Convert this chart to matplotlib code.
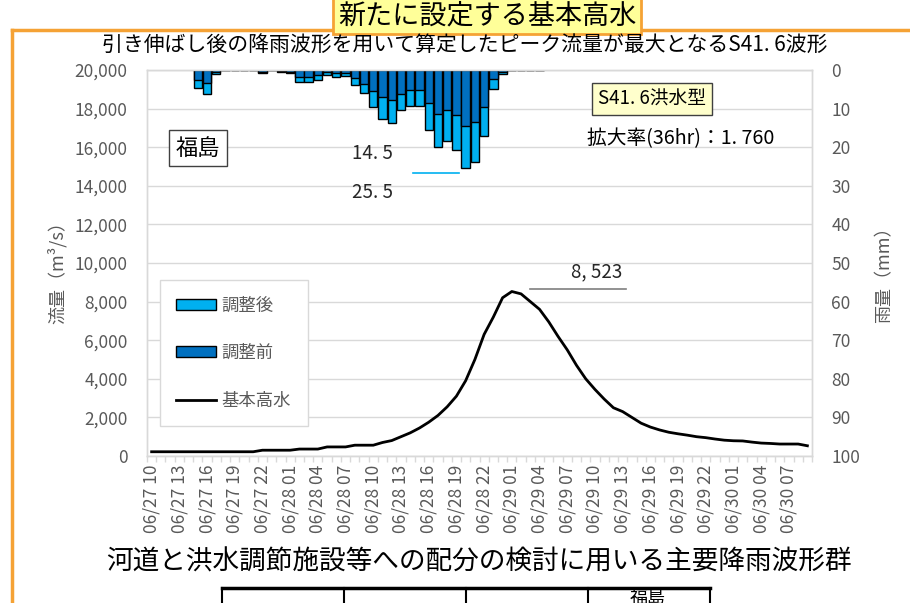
"""S41.6 flood hydrograph with stretched rainfall (Fukushima)."""
import numpy as np
import pandas as pd
import matplotlib
matplotlib.use('Agg')
import matplotlib.pyplot as plt
from matplotlib.patches import Patch
from matplotlib.lines import Line2D
from matplotlib.ticker import FuncFormatter

plt.rcParams['font.family'] = ['Noto Sans CJK JP', 'DejaVu Sans']

# hourly discharge of the basic high water (m3/s), 06/27 10:00 - 06/30 09:00
hours = pd.date_range('1966-06-27 10:00', periods=72, freq='h')
flow = [220, 220, 220, 220, 220, 220, 220, 220, 220, 220, 220, 220,
        300, 300, 300, 300, 360, 360, 360, 470, 470, 470, 560, 560,
        560, 700, 800, 1000, 1200, 1450, 1750, 2100, 2550, 3100, 3900, 5000,
        6300, 7200, 8200, 8523, 8400, 8000, 7600, 6950, 6200, 5500, 4700, 4000,
        3450, 2950, 2500, 2300, 2000, 1700, 1500, 1350, 1230, 1150, 1080, 1000,
        950, 880, 820, 790, 780, 720, 670, 650, 620, 620, 620, 530]

# hourly rainfall (mm), starting at 06/27 15:00
rain_start = 5
rain_before = [2.5, 3.4, 0.4, 0, 0, 0, 0, 0.4, 0, 0.3, 0.5, 1.8, 1.8, 1.4,
               0.6, 0.9, 0.9, 2.1, 3.5, 5.4, 7.0, 7.7, 6.1, 5.1, 5.1, 8.5,
               11.3, 10.4, 11.6, 14.5, 13.6, 9.6, 2.4, 0.5, 0, 0, 0, 0]
rain_after = [4.6, 6.2, 1.0, 0, 0, 0, 0, 0.7, 0, 0.5, 0.9, 3.1, 3.1, 2.6,
              1.2, 1.7, 1.6, 4.0, 6.0, 9.6, 12.8, 13.8, 10.4, 9.3, 9.3, 15.6,
              19.9, 18.4, 20.8, 25.5, 23.8, 17.1, 4.8, 1.1, 0, 0, 0, 0]
stretch_ratio = 1.760

labels = [h.strftime('%m/%d %H') for h in hours]
x = np.arange(len(flow))
xr = np.arange(rain_start, rain_start + len(rain_before))

GRAY = '#595959'
GRID = '#D9D9D9'
LIGHT = '#00B0F0'
DARK = '#0070C0'
ORANGE = '#F5A235'

fig = plt.figure(figsize=(9.1, 6.03), dpi=100)
W, H = 910, 603


def fx(px):
    return px / W


def fy(py):
    return 1 - py / H


def gothic(s):
    """Mimic the wide half-width punctuation of the original font."""
    return s.replace('.', '. ').replace(',', ', ')


ax = fig.add_axes([fx(147), fy(456), fx(812 - 147), (456 - 70) / H])
ax2 = ax.twinx()

ax.plot(x, flow, color='black', lw=2, zorder=3)
ax.set_xlim(-0.5, len(flow) - 0.5)
ax.set_ylim(0, 20000)
ax.set_yticks(np.arange(0, 20001, 2000))
ax.yaxis.set_major_formatter(FuncFormatter(lambda v, p: '{:,.0f}'.format(v)))
ax.grid(axis='y', color=GRID, lw=1)
ax.set_axisbelow(True)

ax.set_xticks(x[::3])
ax.set_xticklabels(labels[::3], rotation=90)
ax.set_xticks(np.arange(-0.5, len(flow)), minor=True)
ax.tick_params(axis='x', which='major', length=0, pad=6, labelsize=12.5,
               labelcolor=GRAY)
ax.tick_params(axis='x', which='minor', length=4, color=GRID, width=1)
ax.tick_params(axis='y', length=0, labelsize=12.5, labelcolor=GRAY, pad=14)

ax2.bar(xr, rain_after, width=0.9, color=LIGHT, edgecolor='black', lw=1)
ax2.bar(xr, rain_before, width=0.9, color=DARK, edgecolor='black', lw=1)
ax2.set_ylim(100, 0)
ax2.set_yticks(np.arange(0, 101, 10))
ax2.tick_params(axis='y', length=0, labelsize=12.5, labelcolor=GRAY, pad=14)

for a in (ax, ax2):
    for s in a.spines.values():
        s.set_color(GRID)
        s.set_linewidth(1)

# legend
handles = [Patch(facecolor=LIGHT, edgecolor='black', lw=1),
           Patch(facecolor=DARK, edgecolor='black', lw=1),
           Line2D([0], [0], color='black', lw=2)]
leg = fig.legend(handles, ['調整後', '調整前', '基本高水'], loc='upper left',
                 bbox_to_anchor=(fx(160), fy(280)), borderaxespad=0,
                 fontsize=12.5, labelcolor=GRAY, labelspacing=1.7,
                 handlelength=2.3, handleheight=0.6, handletextpad=0.3,
                 borderpad=0.95, fancybox=False, framealpha=1,
                 edgecolor=GRID)
leg.get_frame().set_linewidth(1)

# peak annotation
peak_i = int(np.argmax(flow))
peak = flow[peak_i]
ax.text(peak_i + 9.2, 9550, gothic('{:,}'.format(peak)),
        ha='center', va='center', fontsize=13.5, color='#262626')
ax.plot([peak_i + 2, peak_i + 12.4], [8650, 8650], color='#7F7F7F', lw=1.2,
        zorder=4)

# rain maxima
fig.text(fx(372), fy(153), gothic('{:.1f}'.format(max(rain_before))),
         ha='center', va='center', fontsize=13.5, color='#262626')
fig.text(fx(372), fy(193), gothic('{:.1f}'.format(max(rain_after))),
         ha='center', va='center', fontsize=13.5, color='#262626')
fig.add_artist(Line2D([fx(413), fx(459)], [fy(173), fy(173)], color=LIGHT,
                      lw=1.2))

# boxes inside the chart
fig.text(fx(198), fy(148), '福島', ha='center', va='center', fontsize=16,
         bbox=dict(boxstyle='square,pad=0.3', fc='white', ec='#404040', lw=1))
fig.text(fx(652), fy(99), gothic('S41.6') + '洪水型', ha='center',
         va='center', fontsize=13.5,
         bbox=dict(boxstyle='square,pad=0.3', fc='#FFFFCC', ec='#404040', lw=1))
fig.text(fx(681), fy(139),
         '拡大率(36hr)：' + gothic('{:.3f}'.format(stretch_ratio)),
         ha='center', va='center', fontsize=14.2, color='black')

# axis titles
fig.text(fx(57), fy(268), '流量（m³/s）', rotation=90, ha='center',
         va='center', fontsize=13, color=GRAY)
fig.text(fx(884), fy(270), '雨量（mm）', rotation=90, ha='center',
         va='center', fontsize=13, color=GRAY)

# page decorations
fig.add_artist(Line2D([fx(12), 1], [fy(30), fy(30)], color=ORANGE, lw=2.5))
fig.add_artist(Line2D([fx(12), fx(12)], [fy(30), 0], color=ORANGE, lw=2.5))
fig.text(fx(487), fy(16), '新たに設定する基本高水', ha='center', va='center',
         fontsize=19.5,
         bbox=dict(boxstyle='square,pad=0.18', fc='#FFFF99', ec=ORANGE, lw=2))
fig.text(fx(465), fy(45),
         '引き伸ばし後の降雨波形を用いて算定したピーク流量が最大となる'
         + gothic('S41.6') + '波形',
         ha='center', va='center', fontsize=15, color='black')
fig.text(fx(479), fy(562), '河道と洪水調節施設等への配分の検討に用いる主要降雨波形群',
         ha='center', va='center', fontsize=19.2, color='black')

# top of the table below
fig.add_artist(Line2D([fx(222), fx(710)], [fy(588), fy(588)], color='black',
                      lw=2.5))
for px in (222, 344, 466, 588, 710):
    fig.add_artist(Line2D([fx(px), fx(px)], [fy(588), 0], color='black',
                          lw=1.5))
fig.text(fx(648), fy(589), '福島', ha='center', va='top', fontsize=13)

fig.savefig('out.png', dpi=100)
